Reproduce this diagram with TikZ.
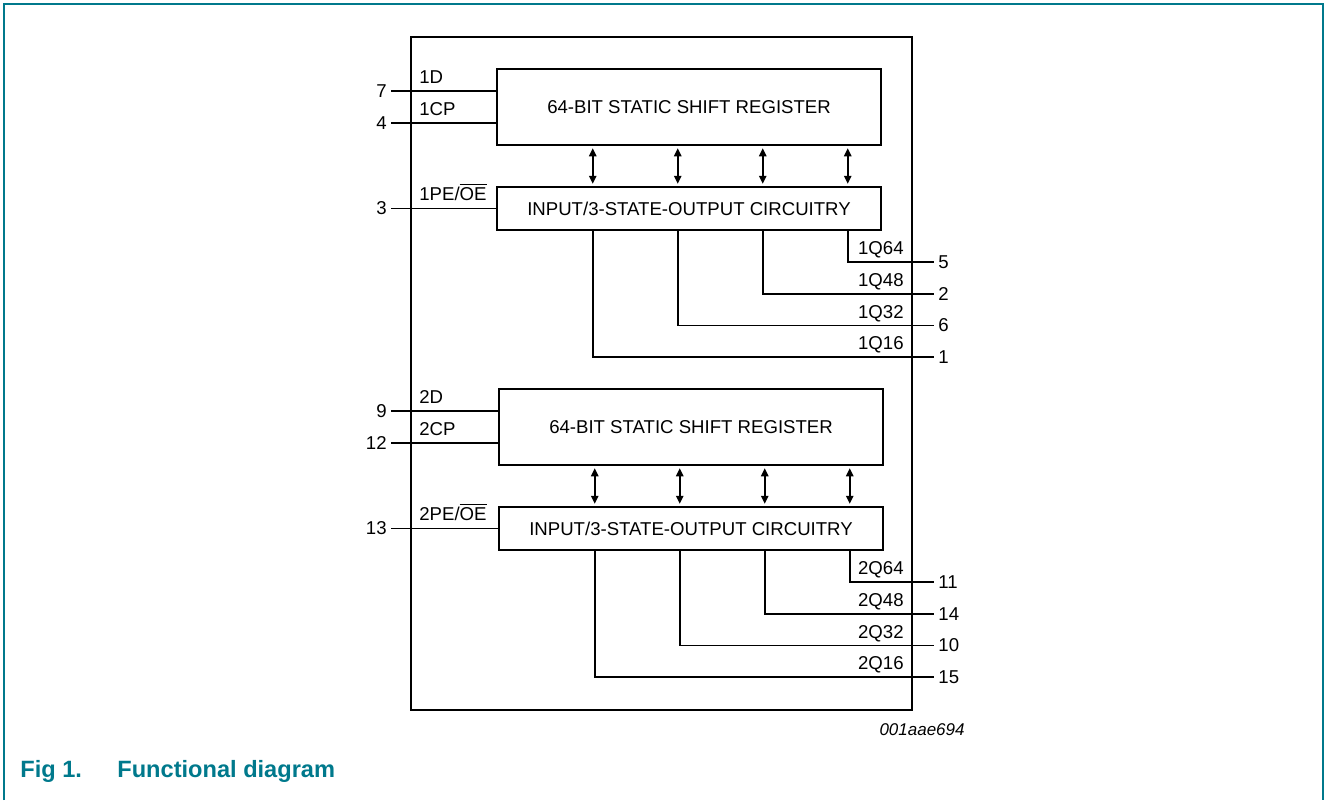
\documentclass[tikz,border=0pt]{standalone}
\usepackage{fontspec}
\setmainfont{Liberation Sans}
\usetikzlibrary{arrows.meta, positioning, calc}
\definecolor{nxpteal}{HTML}{00798C}

\begin{document}
\begin{tikzpicture}[
  % one unit is one pixel of the 1326 x 800 sheet, y counted downwards
  x=0.5pt, y=-0.5pt,
  block/.style={draw, line width=1.25pt, minimum width=192pt, inner sep=0pt,
                font=\fontsize{9.3}{11}\selectfont},
  shiftreg/.style={block, minimum height=38pt},
  iobox/.style={block, minimum height=21.5pt},
  lead/.style={line width=0.75pt},
  biarrow/.style={lead, {Triangle[length=4pt,width=3.7pt]}-{Triangle[length=4pt,width=3.7pt]},
                  shorten <=1pt, shorten >=1pt},
  pinname/.style={font=\fontsize{9.3}{11}\selectfont, inner sep=0pt},
  pinnum/.style={font=\fontsize{9.3}{11}\selectfont, inner sep=0pt},
  caption/.style={font=\fontsize{11.8}{14}\selectfont\bfseries, text=nxpteal, inner sep=0pt}
]
\useasboundingbox (0,0) rectangle (1326,800);

% --- page frame, open at the bottom ------------------------------------------
\draw[nxpteal, line width=1pt] (4,800) -- (4,4) -- (1323,4) -- (1323,800);

% --- package outline -----------------------------------------------------------
\node[draw, line width=1.25pt, minimum width=250.5pt, minimum height=336.5pt]
  (chip) at (661.5,373.5) {};

% --- the two register halves, same layout, 320 px apart ------------------------
\foreach \b/\dx/\dy/\pd/\pc/\pp/\qa/\qb/\qc/\qd in
  {1/0/0/7/4/3/5/2/6/1, 2/2/320/9/12/13/11/14/10/15} {
  \node[shiftreg] (sr\b) at (689+\dx,107+\dy) {64-BIT STATIC SHIFT REGISTER};
  \node[iobox]    (io\b) at (689+\dx,208.5+\dy) {INPUT/3-STATE-OUTPUT CIRCUITRY};

  % inputs
  \coordinate (d\b)  at (391,91+\dy);
  \coordinate (cp\b) at (391,123+\dy);
  \coordinate (pe\b) at (391,208.5+\dy);
  \draw[lead] (d\b)  -- (d\b -| sr\b.west);
  \draw[lead] (cp\b) -- (cp\b -| sr\b.west);
  \draw[lead] (pe\b) -- (pe\b -| io\b.west);
  \node[pinnum, anchor=east] (nd\b)  at (387,91+\dy)    {\pd};
  \node[pinnum, anchor=east] (ncp\b) at (387,123+\dy)   {\pc};
  \node[pinnum, anchor=east] (npe\b) at (387,208.5+\dy) {\pp};
  \node[pinname, anchor=base west] (ld\b)  at (419,83+\dy)  {\b D};
  \node[pinname, anchor=base west] (lcp\b) at (419,115+\dy) {\b CP};
  \node[pinname, anchor=base west] (lpe\b) at (419,200+\dy) {\b PE/$\overline{\hbox{OE}}$};

  % parallel data between register and i/o stage
  \foreach \xo in {97,182,267,352}
    \draw[biarrow] ($(sr\b.south west)+(\xo,0)$) -- ($(io\b.north west)+(\xo,0)$);

  % tapped outputs
  \foreach \n/\xo/\yo/\pin in {64/352/262/\qa, 48/267/294/\qb, 32/182/325.5/\qc, 16/97/357/\qd} {
    \coordinate (q\b-\n) at (934,\yo+\dy);
    \draw[lead] ($(io\b.south west)+(\xo,0)$) |- (q\b-\n);
    \node[pinname, anchor=base east] (lq\b-\n) at (904,\yo+\dy-7.5) {\b Q\n};
    \node[pinnum, anchor=west] (nq\b-\n) at (938,\yo+\dy) {\pin};
  }
}

% --- drawing number and caption ------------------------------------------------
\node[font=\fontsize{8.5}{10}\selectfont\itshape, anchor=base east, inner sep=0pt]
  (docid) at (965,735) {001aae694};
\node[caption, anchor=base west] (fignum)   at (20,777)  {Fig 1.};
\node[caption, anchor=base west] (figtitle) at (117,777) {Functional diagram};

\end{tikzpicture}
\end{document}
